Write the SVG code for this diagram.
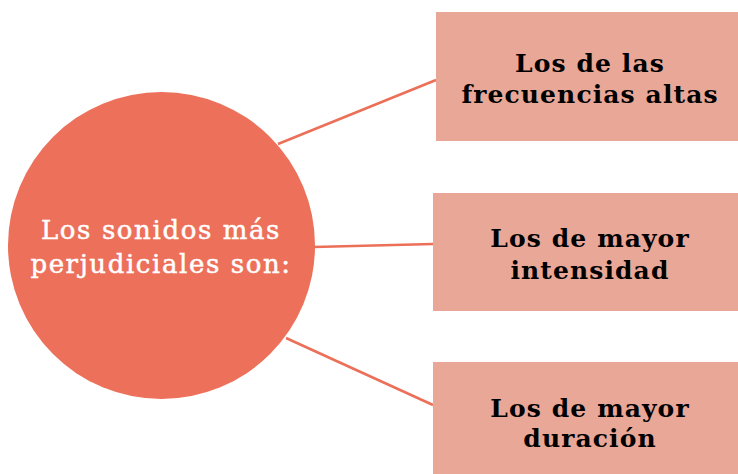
<svg xmlns="http://www.w3.org/2000/svg" width="738" height="474" viewBox="0 0 738 474">
<style>
.conn{stroke:#EC6F58;stroke-width:2.5;fill:none}
.box{fill:#E8A797}
.bt{font-family:"DejaVu Serif","Liberation Serif",serif;font-weight:bold;font-size:25px;letter-spacing:1.1px;fill:#000;text-anchor:middle}
.ct{font-family:"DejaVu Serif","Liberation Serif",serif;font-size:26px;letter-spacing:1.6px;fill:#fff;stroke:#fff;stroke-width:0.5px;text-anchor:middle}
</style>
<rect width="738" height="474" fill="#fff"/>
<g id="connectors">
<line class="conn" x1="278" y1="144" x2="436" y2="80"/>
<line class="conn" x1="314" y1="247" x2="433" y2="244"/>
<line class="conn" x1="286" y1="338" x2="433" y2="405"/>
</g>
<g id="center">
<circle cx="161.5" cy="245.5" r="153.5" fill="#EC705A"/>
<text class="ct" x="161" y="239">Los sonidos más</text>
<text class="ct" x="161" y="273">perjudiciales son:</text>
</g>
<g id="n1">
<rect class="box" x="436" y="12" width="302" height="129"/>
<text class="bt" x="590" y="72">Los de las</text>
<text class="bt" x="590" y="103">frecuencias altas</text>
</g>
<g id="n2">
<rect class="box" x="433" y="193" width="305" height="118"/>
<text class="bt" x="590" y="247">Los de mayor</text>
<text class="bt" x="590" y="279">intensidad</text>
</g>
<g id="n3">
<rect class="box" x="433" y="362" width="305" height="112"/>
<text class="bt" x="590" y="417">Los de mayor</text>
<text class="bt" x="590" y="447">duración</text>
</g>
</svg>
